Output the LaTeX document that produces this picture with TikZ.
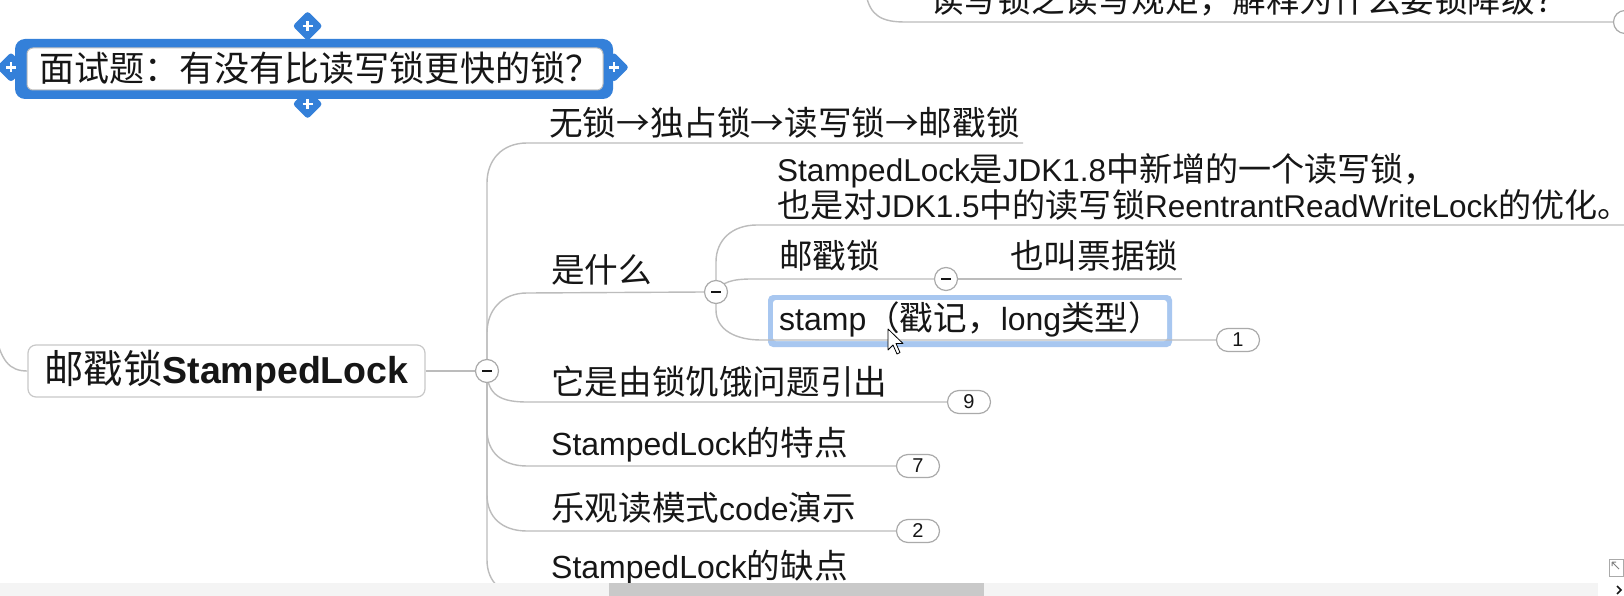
\documentclass[tikz,border=0pt]{standalone}
\usepackage{fontspec}
\setmainfont{Liberation Sans}
\newfontfamily\cjk[Scale=1.05]{Noto Sans CJK SC}
\newcommand\zh[1]{{\cjk #1}}
\definecolor{wire}{RGB}{188,188,188}
\definecolor{btngray}{RGB}{170,170,170}
\definecolor{boxgray}{RGB}{200,200,200}
\definecolor{ink}{RGB}{22,22,22}
\definecolor{selblue}{RGB}{52,128,217}
\definecolor{sellight}{RGB}{168,199,240}
\definecolor{innergray}{RGB}{190,190,190}
\definecolor{strip}{RGB}{244,244,244}
\definecolor{thumb}{RGB}{201,201,201}
\pgfdeclarelayer{boxes}
\pgfdeclarelayer{wires}
\pgfsetlayers{boxes,wires,main}
\tikzset{
  wire/.style={draw=wire, line width=1.4pt},
  txt/.style={anchor=west, inner sep=0pt, text=ink, font=\fontsize{32}{33}\selectfont},
  btn/.style={circle, draw=btngray, line width=1.2pt, fill=white, minimum size=23pt, inner sep=0pt},
  minus/.style={draw=ink, line width=2pt},
  bubble/.style={draw=btngray, line width=1.2pt, fill=white, rounded corners=11.5pt, minimum width=43pt, minimum height=23pt, inner sep=0pt, text=ink, font=\fontsize{20}{20}\selectfont},
  rootbox/.style={draw=boxgray, line width=1.2pt, fill=white, rounded corners=8pt, minimum width=397pt, minimum height=52pt, inner sep=0pt, text=ink, font=\fontsize{37.5}{38}\selectfont},
}
\begin{document}
\begin{tikzpicture}[x=1pt,y=-1pt]
\useasboundingbox (0,0) rectangle (1624,596);
\begin{pgfonlayer}{boxes}
\fill[white] (0,0) rectangle (1624,596);
\end{pgfonlayer}

% ---- top partial node
\node[txt, anchor=base west] (top) at (930,13) {\zh{读写锁之读写规矩，解释为什么要锁降级？}};
\node[btn] (topb) at (1625,22) {};

% ---- selected question node
\fill[selblue, rounded corners=10pt] (15,39) rectangle (613,99);
\foreach \p in {(307.6,26),(307.6,104),(11,67.3),(614,67.3)} {
  \fill[selblue, rounded corners=3pt] \p +(0,-15) -- +(15,0) -- +(0,15) -- +(-15,0) -- cycle;
  \draw[white, line width=2.6pt] \p +(-5,0) -- +(5,0) \p +(0,-5) -- +(0,5);
}
\draw[innergray, fill=white, rounded corners=6pt, line width=1pt] (27,48) rectangle (603,90);
\node[txt, font=\fontsize{33.4}{34}\selectfont] (q) at (39,68) {\zh{面试题：有没有比读写锁更快的锁？}};

% ---- root
\node[rootbox] (root) at (226.5,371) {\zh{邮戳锁}\textbf{StampedLock}};
\node[btn] (rb) at (487,371) {};
\draw[minus] ([xshift=-5pt]rb.center) -- ([xshift=5pt]rb.center);

% ---- children
\node[txt] (c1) at (549,123) {\zh{无锁→独占锁→读写锁→邮戳锁}};
\node[txt] (c2) at (551,270) {\zh{是什么}};
\node[txt] (c3) at (551,382) {\zh{它是由锁饥饿问题引出}};
\node[txt] (c4) at (551,445) {StampedLock\zh{的特点}};
\node[txt] (c5) at (551,508) {\zh{乐观读模式}code\zh{演示}};
\node[txt] (c6) at (551,568) {StampedLock\zh{的缺点}};

\node[bubble] (b9) at (969,402) {9};
\node[bubble] (b7) at (918,466) {7};
\node[bubble] (b2) at (918,531) {2};
\node[bubble] (b0) at (918,596) {};

% ---- sub level of 是什么
\node[btn] (sb) at (716,292) {};
\draw[minus] ([xshift=-5pt]sb.center) -- ([xshift=5pt]sb.center);
\node[txt, align=left, font=\fontsize{31.5}{33}\selectfont] (s1) at (777,187) {StampedLock\zh{是}JDK1.8\zh{中新增的一个读写锁，}\\\zh{也是对}JDK1.5\zh{中的读写锁}ReentrantReadWriteLock\zh{的优化。}};
\node[txt] (s2) at (779,256) {\zh{邮戳锁}};
\node[btn] (s2b) at (946,279) {};
\draw[minus] ([xshift=-5pt]s2b.center) -- ([xshift=5pt]s2b.center);
\node[txt] (s2c) at (1010,256) {\zh{也叫票据锁}};
\node[txt] (s3) at (779,319) {stamp\zh{（戳记，}long\zh{类型）}};
\node[bubble] (b1) at (1238,340) {1};

\coordinate (c1e) at (1023,143);
\coordinate (s1e) at (1630,225);
\coordinate (s2ce) at (1182,279);
\coordinate (rootin) at (-6,326);
\coordinate (topin) at (866,-6);

% ---- selection box of stamp node
\begin{pgfonlayer}{boxes}
\fill[sellight, rounded corners=5pt] (768,295) rectangle (1172,347);
\fill[white, rounded corners=3pt] (773,300) rectangle (1167,341);
\end{pgfonlayer}

% ---- connectors
\begin{pgfonlayer}{wires}
\draw[wire] (rootin) .. controls (0,362) and (10,371) .. (root.west);
\draw[wire] (root.east) -- (rb.west);
\draw[wire] (rb.center) -- (487,183) .. controls (487,160) and (502,143) .. (527,143) -- (c1e);
\draw[wire] (rb.center) -- (487,333) .. controls (487,310) and (502,293) .. (527,293) -- (sb.west);
\draw[wire] (rb.center) .. controls (487,396) and (502,402) .. (527,402) -- (b9.west);
\draw[wire] (rb.center) -- (487,430) .. controls (487,452) and (502,466) .. (527,466) -- (b7.west);
\draw[wire] (rb.center) -- (487,495) .. controls (487,517) and (502,531) .. (527,531) -- (b2.west);
\draw[wire] (rb.center) -- (487,560) .. controls (487,582) and (502,596) .. (527,596) -- (b0.west);
\draw[wire] (sb.center) -- (716,262) .. controls (716,240) and (732,225) .. (757,225) -- (s1e);
\draw[wire] (sb.center) .. controls (722,282) and (732,279) .. (752,279) -- (s2b.west);
\draw[wire] (s2b.east) -- (s2ce);
\draw[wire] (sb.center) -- (716,310) .. controls (716,330) and (736,340) .. (761,340) -- (b1.west);
\draw[wire] (topin) .. controls (870,16) and (882,22) .. (905,22) -- (topb.west);
\end{pgfonlayer}

% ---- mouse cursor
\draw[black, fill=white, line width=0.8pt, line join=round] (888,329) -- ++(0,21) -- ++(5,-5) -- ++(4,9) -- ++(3,-1.5) -- ++(-4,-9) -- ++(7,0) -- cycle;

% ---- bottom scroll strip
\fill[strip] (0,583) rectangle (1598,596);
\fill[thumb] (609,583) rectangle (984,596);
\draw[btngray, line width=1pt] (1609,559) rectangle (1623,576);
\draw[gray, line width=1pt] (1612,562) -- (1619,569) (1612,562) -- (1616,562) (1612,562) -- (1612,566);
\draw[ink, line width=1.5pt] (1617,586) -- (1621,590) -- (1617,594);
\end{tikzpicture}
\end{document}
